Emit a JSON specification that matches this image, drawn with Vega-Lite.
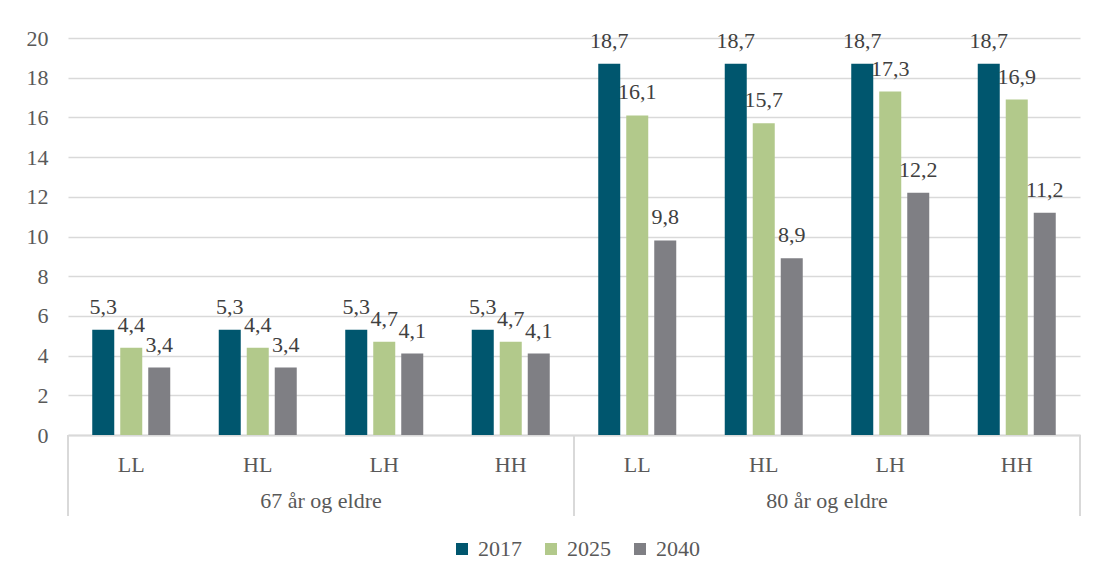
{
  "$schema": "https://vega.github.io/schema/vega-lite/v6.json",
  "width": 1012,
  "height": 397,
  "autosize": {"type": "none"},
  "padding": {"left": 68, "top": 38, "right": 18, "bottom": 143},
  "background": "white",
  "config": {
    "view": {"stroke": null},
    "font": "Liberation Serif",
    "axisY": {
      "title": null,
      "tickCount": 11,
      "labelFontSize": 22,
      "labelColor": "#595959",
      "labelPadding": 20,
      "labelOverlap": false,
      "domain": false,
      "ticks": false,
      "gridColor": "#D9D9D9",
      "gridWidth": 1.5
    },
    "locale": {"number": {"decimal": ",", "thousands": " ", "grouping": [3], "currency": ["", " kr"]}}
  },
  "datasets": {
    "bars": [
      {"key": "67 år og eldre|LL", "year": "2017", "value": 5.3},
      {"key": "67 år og eldre|LL", "year": "2025", "value": 4.4},
      {"key": "67 år og eldre|LL", "year": "2040", "value": 3.4},
      {"key": "67 år og eldre|HL", "year": "2017", "value": 5.3},
      {"key": "67 år og eldre|HL", "year": "2025", "value": 4.4},
      {"key": "67 år og eldre|HL", "year": "2040", "value": 3.4},
      {"key": "67 år og eldre|LH", "year": "2017", "value": 5.3},
      {"key": "67 år og eldre|LH", "year": "2025", "value": 4.7},
      {"key": "67 år og eldre|LH", "year": "2040", "value": 4.1},
      {"key": "67 år og eldre|HH", "year": "2017", "value": 5.3},
      {"key": "67 år og eldre|HH", "year": "2025", "value": 4.7},
      {"key": "67 år og eldre|HH", "year": "2040", "value": 4.1},
      {"key": "80 år og eldre|LL", "year": "2017", "value": 18.7},
      {"key": "80 år og eldre|LL", "year": "2025", "value": 16.1},
      {"key": "80 år og eldre|LL", "year": "2040", "value": 9.8},
      {"key": "80 år og eldre|HL", "year": "2017", "value": 18.7},
      {"key": "80 år og eldre|HL", "year": "2025", "value": 15.7},
      {"key": "80 år og eldre|HL", "year": "2040", "value": 8.9},
      {"key": "80 år og eldre|LH", "year": "2017", "value": 18.7},
      {"key": "80 år og eldre|LH", "year": "2025", "value": 17.3},
      {"key": "80 år og eldre|LH", "year": "2040", "value": 12.2},
      {"key": "80 år og eldre|HH", "year": "2017", "value": 18.7},
      {"key": "80 år og eldre|HH", "year": "2025", "value": 16.9},
      {"key": "80 år og eldre|HH", "year": "2040", "value": 11.2}
    ],
    "groups": [
      {"key": "67 år og eldre|HL", "group": "67 år og eldre"},
      {"key": "80 år og eldre|HL", "group": "80 år og eldre"}
    ],
    "sepLeft": [
      {"key": "67 år og eldre|LL"},
      {"key": "80 år og eldre|LL"}
    ],
    "sepRight": [
      {"key": "80 år og eldre|HH"}
    ]
  },
  "encoding": {
    "x": {
      "field": "key",
      "type": "nominal",
      "sort": ["67 år og eldre|LL", "67 år og eldre|HL", "67 år og eldre|LH", "67 år og eldre|HH", "80 år og eldre|LL", "80 år og eldre|HL", "80 år og eldre|LH", "80 år og eldre|HH"],
      "scale": {"paddingInner": 0, "paddingOuter": 0},
      "axis": {
        "title": null,
        "labelAngle": 0,
        "labelExpr": "split(datum.value, '|')[1]",
        "labelFontSize": 22,
        "labelColor": "#595959",
        "labelPadding": 19,
        "labelOverlap": false,
        "ticks": false,
        "domainColor": "#D9D9D9",
        "domainWidth": 2,
        "grid": false
      }
    }
  },
  "layer": [
    {
      "data": {"name": "bars"},
      "mark": {"type": "bar"},
      "encoding": {
        "xOffset": {"field": "year", "type": "nominal", "scale": {"paddingInner": 0.214, "paddingOuter": 0.866}},
        "y": {
          "field": "value",
          "type": "quantitative",
          "scale": {"domain": [0, 20], "nice": false},
          "axis": {"values": [0, 2, 4, 6, 8, 10, 12, 14, 16, 18, 20], "tickCount": 11}
        },
        "color": {
          "field": "year",
          "type": "nominal",
          "scale": {"domain": ["2017", "2025", "2040"], "range": ["#00566E", "#B2C98B", "#7F7F84"]},
          "legend": {
            "title": null,
            "orient": "none",
            "legendX": 383,
            "legendY": 500,
            "direction": "horizontal",
            "symbolType": "square",
            "symbolSize": 144,
            "symbolStrokeWidth": 0,
            "labelFontSize": 22,
            "labelColor": "#595959",
            "labelOffset": 5,
            "columnPadding": 18,
            "padding": 0
          }
        }
      }
    },
    {
      "data": {"name": "bars"},
      "mark": {"type": "text", "fontSize": 22, "color": "#404040", "baseline": "alphabetic", "dy": -16},
      "encoding": {
        "xOffset": {"field": "year", "type": "nominal"},
        "y": {"field": "value", "type": "quantitative", "axis": {"values": [0, 2, 4, 6, 8, 10, 12, 14, 16, 18, 20], "tickCount": 11}},
        "text": {"field": "value", "type": "quantitative", "format": ".1f"}
      }
    },
    {
      "data": {"name": "groups"},
      "mark": {"type": "text", "fontSize": 22, "color": "#595959", "baseline": "alphabetic"},
      "encoding": {
        "x": {"field": "key", "type": "nominal", "bandPosition": 1},
        "y": {"datum": -3.68, "axis": {"values": [0, 2, 4, 6, 8, 10, 12, 14, 16, 18, 20], "tickCount": 11}},
        "text": {"field": "group"}
      }
    },
    {
      "data": {"name": "sepLeft"},
      "mark": {"type": "rule", "color": "#D9D9D9", "strokeWidth": 2},
      "encoding": {
        "x": {"field": "key", "type": "nominal", "bandPosition": 0},
        "y": {"datum": 0, "axis": {"values": [0, 2, 4, 6, 8, 10, 12, 14, 16, 18, 20], "tickCount": 11}},
        "y2": {"datum": -4.08}
      }
    },
    {
      "data": {"name": "sepRight"},
      "mark": {"type": "rule", "color": "#D9D9D9", "strokeWidth": 2},
      "encoding": {
        "x": {"field": "key", "type": "nominal", "bandPosition": 1},
        "y": {"datum": 0, "axis": {"values": [0, 2, 4, 6, 8, 10, 12, 14, 16, 18, 20], "tickCount": 11}},
        "y2": {"datum": -4.08}
      }
    }
  ]
}
